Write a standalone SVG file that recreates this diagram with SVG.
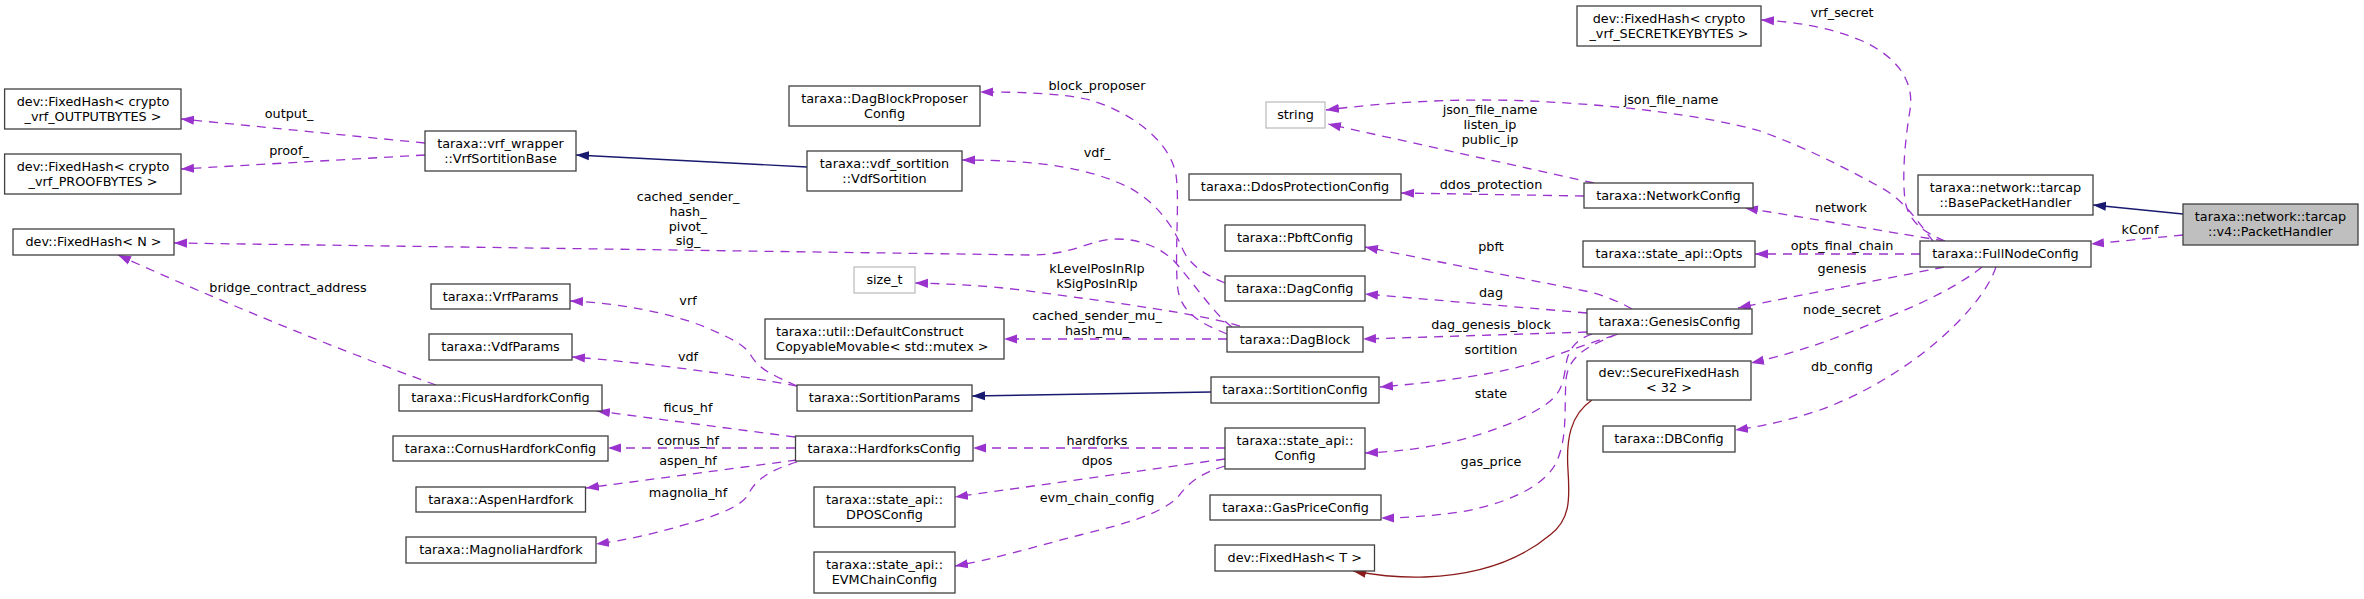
<svg xmlns="http://www.w3.org/2000/svg" width="2364" height="599" viewBox="0 0 2364 599">
<style>
text{font-family:"DejaVu Sans","Liberation Sans",sans-serif;font-size:12.8px;fill:#000}
.n rect{fill:#fff;stroke:#404040;stroke-width:1.3}
.g rect{fill:#fff;stroke:#bfbfbf;stroke-width:1.3}
.r rect{fill:#bfbfbf;stroke:#404040;stroke-width:1.3}
.n text,.g text,.r text,.l text{text-anchor:middle}
#n_dcm text{text-anchor:start}
.u{fill:none;stroke:#9a32cd;stroke-width:1.3;stroke-dasharray:9,7}
.i{fill:none;stroke:#191970;stroke-width:1.3}
.t{fill:none;stroke:#8b1a1a;stroke-width:1.3}
.u{marker-end:url(#au)}
.i{marker-end:url(#ai)}
.t{marker-end:url(#at)}
</style>
<defs>
<marker id="au" viewBox="0 0 13 10" refX="13" refY="5" markerWidth="13" markerHeight="10" markerUnits="userSpaceOnUse" orient="auto"><path d="M0,0.4 L13,5 L0,9.6 z" fill="#9a32cd"/></marker>
<marker id="ai" viewBox="0 0 13 10" refX="13" refY="5" markerWidth="13" markerHeight="10" markerUnits="userSpaceOnUse" orient="auto"><path d="M0,0.4 L13,5 L0,9.6 z" fill="#191970"/></marker>
<marker id="at" viewBox="0 0 13 10" refX="13" refY="5" markerWidth="13" markerHeight="10" markerUnits="userSpaceOnUse" orient="auto"><path d="M0,0.4 L13,5 L0,9.6 z" fill="#8b1a1a"/></marker>
</defs>
<rect width="2364" height="599" fill="#fff"/>
<g id="connectors">
<path class="u" d="M425,143 L181,119"/>
<path class="u" d="M425,155 L181,169"/>
<path class="i" d="M807,167 L576,155"/>
<path class="u" d="M1232,327 C1215,315 1195,285 1175,262 C1160,247 1140,239 1117,239 C1090,239 1075,255 1030,255 L174,243"/>
<path class="u" d="M1227,334 C1205,325 1182,315 1178,290 C1174,260 1180,200 1176,175 C1170,140 1130,112 1090,100 C1060,93 1020,92 980,92"/>
<path class="u" d="M1225,283 C1205,275 1190,265 1183,250 C1175,230 1160,205 1130,188 C1090,168 1040,160 962,160"/>
<path class="u" d="M1240,326 C1200,314 1120,303 1021,290 C980,285 950,284 915,283"/>
<path class="u" d="M1227,339 L1004,339"/>
<path class="u" d="M797,386 C775,376 760,370 752,357 C745,345 735,340 705,327 C670,313 620,303 570,301"/>
<path class="u" d="M797,386 C740,375 640,362 572,357"/>
<path class="u" d="M795,437 L597,411"/>
<path class="u" d="M795,448 L608,448"/>
<path class="u" d="M797,460 L586,488"/>
<path class="u" d="M797,462 C770,470 755,480 748,495 C740,508 710,518 680,526 C650,535 620,541 596,544"/>
<path class="u" d="M436,385 C380,365 250,315 118,255"/>
<path class="i" d="M1211,392 L972,396"/>
<path class="u" d="M1225,448 L973,448"/>
<path class="u" d="M1225,459 L955,497"/>
<path class="u" d="M1225,466 C1205,472 1190,480 1178,497 C1160,515 1120,525 1080,535 C1030,548 990,560 955,566"/>
<path class="u" d="M1632,309 C1620,302 1605,296 1590,292 L1365,247"/>
<path class="u" d="M1587,313 L1365,294"/>
<path class="u" d="M1587,332 L1363,339"/>
<path class="u" d="M1615,335 C1590,343 1565,352 1540,361 C1500,374 1440,382 1380,387"/>
<path class="u" d="M1592,334 C1575,340 1568,350 1566,365 C1563,385 1560,395 1545,405 C1515,425 1470,440 1420,448 C1400,451 1385,452 1365,453"/>
<path class="u" d="M1618,334 C1590,345 1568,355 1566,380 C1564,410 1568,440 1555,465 C1540,490 1500,505 1460,512 C1430,516 1405,518 1381,518"/>
<path class="t" d="M1592,400 C1570,415 1566,440 1568,470 C1570,500 1570,520 1550,535 C1520,560 1480,575 1425,577 C1400,578 1375,575 1353,571"/>
<path class="u" d="M1594,183 L1328,124"/>
<path class="u" d="M1584,196 L1401,193"/>
<path class="u" d="M1933,241 C1920,225 1905,200 1880,187 C1840,165 1800,145 1757,130 C1700,115 1620,105 1530,101 C1460,98 1390,102 1326,110"/>
<path class="u" d="M1945,241 C1925,233 1908,222 1905,200 C1902,175 1905,140 1910,110 C1915,80 1895,55 1860,40 C1830,28 1800,22 1761,20"/>
<path class="u" d="M1945,241 C1900,234 1820,220 1745,208"/>
<path class="u" d="M1920,254 L1755,254"/>
<path class="u" d="M1944,267 C1880,280 1800,295 1738,308"/>
<path class="u" d="M1982,267 C1960,285 1920,305 1880,320 C1840,337 1800,352 1751,363"/>
<path class="u" d="M1996,267 C1990,285 1975,305 1955,325 C1920,360 1870,392 1820,410 C1790,420 1765,426 1735,430"/>
<path class="u" d="M2183,235 L2091,244"/>
<path class="i" d="M2183,214 L2093,205"/>
</g>
<g id="edge-labels" class="l">
<text x="289" y="118">output_</text>
<text x="289" y="155">proof_</text>
<text x="288" y="292">bridge_contract_address</text>
<text x="688" y="201">cached_sender_</text>
<text x="688" y="216">hash_</text>
<text x="688" y="231">pivot_</text>
<text x="688" y="245">sig_</text>
<text x="688" y="305">vrf</text>
<text x="688" y="361">vdf</text>
<text x="688" y="412">ficus_hf</text>
<text x="688" y="445">cornus_hf</text>
<text x="688" y="465">aspen_hf</text>
<text x="688" y="497">magnolia_hf</text>
<text x="1097" y="90">block_proposer</text>
<text x="1097" y="157">vdf_</text>
<text x="1097" y="273">kLevelPosInRlp</text>
<text x="1097" y="288">kSigPosInRlp</text>
<text x="1097" y="320">cached_sender_mu_</text>
<text x="1097" y="335">hash_mu_</text>
<text x="1097" y="445">hardforks</text>
<text x="1097" y="465">dpos</text>
<text x="1097" y="502">evm_chain_config</text>
<text x="1490" y="114">json_file_name</text>
<text x="1490" y="129">listen_ip</text>
<text x="1490" y="144">public_ip</text>
<text x="1671" y="104">json_file_name</text>
<text x="1491" y="189">ddos_protection</text>
<text x="1491" y="251">pbft</text>
<text x="1491" y="297">dag</text>
<text x="1491" y="329">dag_genesis_block</text>
<text x="1491" y="354">sortition</text>
<text x="1491" y="398">state</text>
<text x="1491" y="465.5">gas_price</text>
<text x="1842" y="17">vrf_secret</text>
<text x="1841" y="212">network</text>
<text x="1842" y="250">opts_final_chain</text>
<text x="1842" y="273">genesis</text>
<text x="1842" y="314">node_secret</text>
<text x="1842" y="371">db_config</text>
<text x="2140" y="233.5">kConf</text>
</g>
<g id="n_out" class="n"><rect x="4.6" y="89" width="176.4" height="40"/><text x="93" y="105.5">dev::FixedHash&lt; crypto</text><text x="93" y="120.5">_vrf_OUTPUTBYTES &gt;</text></g>
<g id="n_proof" class="n"><rect x="4.6" y="154" width="176.4" height="40"/><text x="93" y="170.5">dev::FixedHash&lt; crypto</text><text x="93" y="185.5">_vrf_PROOFBYTES &gt;</text></g>
<g id="n_vrfbase" class="n"><rect x="425" y="131" width="151" height="40"/><text x="500.5" y="147.5">taraxa::vrf_wrapper</text><text x="500.5" y="162.5">::VrfSortitionBase</text></g>
<g id="n_fhN" class="n"><rect x="13" y="229" width="161" height="26"/><text x="93.5" y="246">dev::FixedHash&lt; N &gt;</text></g>
<g id="n_vrfparams" class="n"><rect x="431" y="284" width="139" height="25"/><text x="500.5" y="300.5">taraxa::VrfParams</text></g>
<g id="n_vdfparams" class="n"><rect x="429" y="334" width="143" height="26"/><text x="500.5" y="351">taraxa::VdfParams</text></g>
<g id="n_ficus" class="n"><rect x="399" y="385" width="203" height="26"/><text x="500.5" y="402">taraxa::FicusHardforkConfig</text></g>
<g id="n_cornus" class="n"><rect x="393" y="436" width="215" height="25"/><text x="500.5" y="452.5">taraxa::CornusHardforkConfig</text></g>
<g id="n_aspen" class="n"><rect x="416" y="487" width="169.5" height="25"/><text x="500.75" y="503.5">taraxa::AspenHardfork</text></g>
<g id="n_magnolia" class="n"><rect x="406" y="537" width="190" height="26"/><text x="501" y="554">taraxa::MagnoliaHardfork</text></g>
<g id="n_dbpc" class="n"><rect x="789" y="86" width="191" height="40"/><text x="884.5" y="102.5">taraxa::DagBlockProposer</text><text x="884.5" y="117.5">Config</text></g>
<g id="n_vdfsort" class="n"><rect x="807" y="151" width="155" height="40"/><text x="884.5" y="167.5">taraxa::vdf_sortition</text><text x="884.5" y="182.5">::VdfSortition</text></g>
<g id="n_sizet" class="g"><rect x="854" y="267" width="61" height="26"/><text x="884.5" y="284">size_t</text></g>
<g id="n_dcm" class="n"><rect x="765" y="319" width="239" height="40"/><text x="776" y="335.5">taraxa::util::DefaultConstruct</text><text x="776" y="350.5">CopyableMovable&lt; std::mutex &gt;</text></g>
<g id="n_sortparams" class="n"><rect x="797" y="385" width="175" height="26"/><text x="884.5" y="402">taraxa::SortitionParams</text></g>
<g id="n_hardforks" class="n"><rect x="795.5" y="436" width="177.5" height="25"/><text x="884.25" y="452.5">taraxa::HardforksConfig</text></g>
<g id="n_dpos" class="n"><rect x="814" y="487" width="141" height="40"/><text x="884.5" y="503.5">taraxa::state_api::</text><text x="884.5" y="518.5">DPOSConfig</text></g>
<g id="n_evm" class="n"><rect x="814" y="552" width="141" height="41"/><text x="884.5" y="569">taraxa::state_api::</text><text x="884.5" y="584">EVMChainConfig</text></g>
<g id="n_string" class="g"><rect x="1266" y="102" width="59" height="26"/><text x="1295.5" y="119">string</text></g>
<g id="n_ddos" class="n"><rect x="1189" y="174" width="212" height="26"/><text x="1295" y="191">taraxa::DdosProtectionConfig</text></g>
<g id="n_pbft" class="n"><rect x="1225" y="225" width="140" height="26"/><text x="1295" y="242">taraxa::PbftConfig</text></g>
<g id="n_dagconfig" class="n"><rect x="1225" y="276" width="140" height="25"/><text x="1295" y="292.5">taraxa::DagConfig</text></g>
<g id="n_dagblock" class="n"><rect x="1227" y="327" width="136" height="25"/><text x="1295" y="343.5">taraxa::DagBlock</text></g>
<g id="n_sortconfig" class="n"><rect x="1211" y="377" width="168" height="26"/><text x="1295" y="394">taraxa::SortitionConfig</text></g>
<g id="n_saconfig" class="n"><rect x="1225" y="428" width="140" height="41"/><text x="1295" y="445">taraxa::state_api::</text><text x="1295" y="460">Config</text></g>
<g id="n_gasprice" class="n"><rect x="1210" y="495" width="171" height="25"/><text x="1295.5" y="511.5">taraxa::GasPriceConfig</text></g>
<g id="n_fhT" class="n"><rect x="1215" y="545" width="159.5" height="26"/><text x="1294.75" y="562">dev::FixedHash&lt; T &gt;</text></g>
<g id="n_secret" class="n"><rect x="1577" y="6" width="184" height="40"/><text x="1669" y="22.5">dev::FixedHash&lt; crypto</text><text x="1669" y="37.5">_vrf_SECRETKEYBYTES &gt;</text></g>
<g id="n_netconfig" class="n"><rect x="1584" y="183" width="169" height="25"/><text x="1668.5" y="199.5">taraxa::NetworkConfig</text></g>
<g id="n_opts" class="n"><rect x="1583" y="241" width="172" height="26"/><text x="1669" y="258">taraxa::state_api::Opts</text></g>
<g id="n_genesis" class="n"><rect x="1587" y="309" width="165" height="25"/><text x="1669.5" y="325.5">taraxa::GenesisConfig</text></g>
<g id="n_securefh" class="n"><rect x="1587" y="361" width="164" height="39"/><text x="1669" y="377">dev::SecureFixedHash</text><text x="1669" y="392">&lt; 32 &gt;</text></g>
<g id="n_dbconfig" class="n"><rect x="1603" y="426" width="132" height="26"/><text x="1669" y="443">taraxa::DBConfig</text></g>
<g id="n_fullnode" class="n"><rect x="1920" y="241" width="171" height="26"/><text x="2005.5" y="258">taraxa::FullNodeConfig</text></g>
<g id="n_base" class="n"><rect x="1918" y="175" width="175" height="40"/><text x="2005.5" y="191.5">taraxa::network::tarcap</text><text x="2005.5" y="206.5">::BasePacketHandler</text></g>
<g id="n_packet" class="r"><rect x="2183" y="204" width="175" height="41"/><text x="2270.5" y="221">taraxa::network::tarcap</text><text x="2270.5" y="236">::v4::PacketHandler</text></g>
</svg>
